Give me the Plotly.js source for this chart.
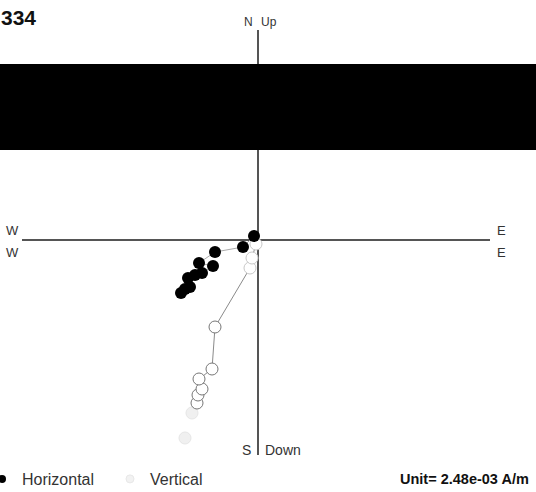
<!DOCTYPE html>
<html>
<head>
<meta charset="utf-8">
<script src="https://cdn.plot.ly/plotly-3.0.1.min.js"></script>
<style>html,body{margin:0;padding:0;background:#fff;}#chart{width:536px;height:492px;}</style>
</head>
<body>
<div id="chart"></div>
<script>
// Values in units of 2.48e-03 A/m (East positive right, North/Up positive up)
const horizE = [-7.7, -7.3, -6.8, -7.0, -6.3, -5.6, -4.5, -5.9, -4.3, -1.5, -0.4];
const horizN = [-5.3, -4.9, -4.7, -3.8, -3.5, -3.3, -2.6, -2.3, -1.2, -0.7, 0.4];
const vertE = [-6.1, -6.0, -5.6, -5.9, -4.6, -4.3, -0.8, -0.6, -0.2];
const vertUp = [-16.3, -15.5, -14.9, -13.9, -12.9, -8.7, -2.8, -1.8, -0.4];
const fadedE = [-6.6, -7.3];
const fadedUp = [-17.3, -19.8];
const titleText = "334";
const unitText = "Unit= 2.48e-03 A/m";
const seriesNames = ["Horizontal", "Vertical"];

const W = 536, H = 492;
const L = 22, R = 490, T = 30, B = 455;
const px = x => (x - L) / (R - L);
const py = y => (B - y) / (B - T);
const font = "Liberation Sans, Arial, sans-serif";
const txt = "#333";

const vertOutline = vertE.map((v, i) => i >= vertE.length - 3 ? "#c8c8c8" : "#777");

const traces = [
  {x: fadedE, y: fadedUp, mode: "markers", showlegend: false, hoverinfo: "skip",
   marker: {symbol: "circle", size: 12, color: "#f0f0f0", line: {color: "#e6e6e6", width: 1}}},
  {x: vertE, y: vertUp, mode: "lines+markers", showlegend: false,
   line: {color: "#8a8a8a", width: 1},
   marker: {symbol: "circle", size: 12, color: "#fff", line: {color: vertOutline, width: 1}}},
  {x: horizE, y: horizN, mode: "lines+markers", showlegend: false,
   line: {color: "#aaa", width: 1},
   marker: {symbol: "circle", size: 12, color: "#000"}},
  {x: [null], y: [null], mode: "markers", name: seriesNames[0],
   marker: {symbol: "circle", size: 8, color: "#000"}},
  {x: [null], y: [null], mode: "markers", name: seriesNames[1],
   marker: {symbol: "circle", size: 8, color: "#f2f2f2", line: {color: "#e8e8e8", width: 1}}}
];

function ann(text, x, y, opts) {
  return Object.assign({text: text, xref: "paper", yref: "paper", x: px(x), y: py(y),
    showarrow: false, xanchor: "center", yanchor: "middle",
    font: {family: font, size: 12, color: txt}}, opts || {});
}

const layout = {
  width: W, height: H,
  margin: {l: L, r: W - R, t: T, b: H - B, pad: 0, autoexpand: false},
  paper_bgcolor: "#fff", plot_bgcolor: "#fff",
  showlegend: true,
  legend: {orientation: "h", x: px(-18), y: py(479), xanchor: "left", yanchor: "middle",
    font: {family: font, size: 16, color: txt}, bgcolor: "rgba(0,0,0,0)",
    entrywidth: 83, entrywidthmode: "pixels", itemclick: false},
  xaxis: {range: [(L - 258) / 10, (R - 258) / 10], showgrid: false, showticklabels: false,
    ticks: "", zeroline: true, zerolinecolor: "#555", zerolinewidth: 1.5, showline: false, fixedrange: true},
  yaxis: {range: [-(B - 240) / 10, (240 - T) / 10], showgrid: false, showticklabels: false,
    ticks: "", zeroline: true, zerolinecolor: "#555", zerolinewidth: 1.5, showline: false, fixedrange: true},
  annotations: [
    ann("N", 248, 22), ann("Up", 269, 22),
    ann("S", 246, 450, {font: {family: font, size: 14, color: txt}}),
    ann("Down", 283, 450, {font: {family: font, size: 14, color: txt}}),
    ann("W", 12, 231, {font: {family: font, size: 13, color: txt}}),
    ann("W", 12, 253, {font: {family: font, size: 13, color: txt}}),
    ann("E", 502, 231, {font: {family: font, size: 13, color: txt}}),
    ann("E", 502, 253, {font: {family: font, size: 13, color: txt}}),
    ann("<b>" + titleText + "</b>", 38, 18, {xanchor: "right", font: {family: font, size: 21, color: "#111"}}),
    ann("<b>" + unitText + "</b>", 531, 479, {xanchor: "right", font: {family: font, size: 14.5, color: "#111"}})
  ],
  shapes: [
    {type: "rect", xref: "paper", yref: "paper", x0: px(-5), x1: px(W + 5), y0: py(150), y1: py(64),
     fillcolor: "#000", line: {width: 0}, layer: "above"}
  ]
};

Plotly.newPlot("chart", traces, layout, {displayModeBar: false, staticPlot: true});
</script>
</body>
</html>
